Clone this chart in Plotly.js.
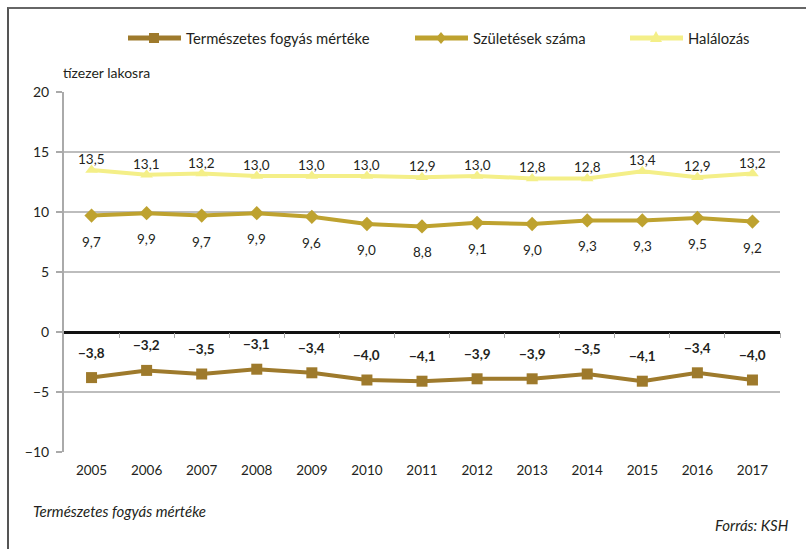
<!DOCTYPE html>
<html><head><meta charset="utf-8">
<script src="https://cdn.plot.ly/plotly-3.0.1.min.js"></script>
<style>
html,body{margin:0;padding:0;background:#fff;}
#wrap{position:relative;width:806px;height:549px;}
#chart{position:absolute;left:0;top:0;width:806px;height:549px;}
#frame{position:absolute;left:7px;top:7px;right:-5px;bottom:-5px;border-left:2px solid #555;border-top:2px solid #666;pointer-events:none;}
</style></head>
<body><div id="wrap"><div id="chart"></div><div id="frame"></div></div>
<script>
const years = [2005,2006,2007,2008,2009,2010,2011,2012,2013,2014,2015,2016,2017];
const termeszetes = [-3.8,-3.2,-3.5,-3.1,-3.4,-4.0,-4.1,-3.9,-3.9,-3.5,-4.1,-3.4,-4.0];
const szuletesek = [9.7,9.9,9.7,9.9,9.6,9.0,8.8,9.1,9.0,9.3,9.3,9.5,9.2];
const halalozas = [13.5,13.1,13.2,13.0,13.0,13.0,12.9,13.0,12.8,12.8,13.4,12.9,13.2];
const names = ['Természetes fogyás mértéke','Születések száma','Halálozás'];
const yTicks = [-10,-5,0,5,10,15,20];

const FONT = 'Lato, "Open Sans", sans-serif';
const TXT = '#231f20';
const colors = ['#9e7a2c', '#bea22f', '#f4ef88'];
const symbols = ['square', 'diamond', 'triangle-up'];
const fmt = v => (v < 0 ? '\u2212' : '') + Math.abs(v).toFixed(1).replace('.', ',');

const series = [termeszetes, szuletesek, halalozas];
const traces = series.map((s, k) => ({
  x: years, y: s, name: names[k], mode: 'lines+markers', showlegend: false,
  line: {color: colors[k], width: 4}, marker: {symbol: symbols[k], size: 11, color: colors[k]}
}));

// plot-area geometry (pixels) used for placing legend / notes in paper coords
const L = 64, T = 92, W = 716, H = 360;
const px = x => (x - L) / W;
const py = y => (T + H - y) / H;

const ann = [];
years.forEach((yr, i) => {
  ann.push({x: yr, y: halalozas[i], text: fmt(halalozas[i]), showarrow: false, yshift: 11,
    font: {family: FONT, size: 13.5, color: TXT}});
  ann.push({x: yr, y: szuletesek[i], text: fmt(szuletesek[i]), showarrow: false, yshift: -26,
    font: {family: FONT, size: 13.5, color: TXT}});
  ann.push({x: yr, y: termeszetes[i], text: '<b>' + fmt(termeszetes[i]) + '</b>', showarrow: false, yshift: 25,
    font: {family: FONT, size: 13.5, color: TXT}});
});
ann.push({xref: 'paper', yref: 'paper', x: px(61), y: py(72), xanchor: 'left', yanchor: 'middle',
  text: 'tízezer lakosra', showarrow: false, font: {family: FONT, size: 14, color: TXT}});
ann.push({xref: 'paper', yref: 'paper', x: px(31), y: py(511), xanchor: 'left', yanchor: 'middle',
  text: '<i>Természetes fogyás mértéke</i>', showarrow: false, font: {family: FONT, size: 15, color: TXT}});
ann.push({xref: 'paper', yref: 'paper', x: px(791), y: py(525), xanchor: 'right', yanchor: 'middle',
  text: '<i>Forrás: KSH</i>', showarrow: false, font: {family: FONT, size: 15, color: TXT}});

// manual legend
const legX = [128, 415, 630];
const legY = 38;
const shapes = [];
legX.forEach((x0, k) => {
  const x1 = x0 + 53, cx = x0 + 26;
  shapes.push({type: 'line', xref: 'paper', yref: 'paper', x0: px(x0), x1: px(x1), y0: py(legY), y1: py(legY),
    line: {color: colors[k], width: 5}});
  let path;
  if (symbols[k] === 'square') {
    path = `M${px(cx-5)},${py(legY-5)} L${px(cx+5)},${py(legY-5)} L${px(cx+5)},${py(legY+5)} L${px(cx-5)},${py(legY+5)} Z`;
  } else if (symbols[k] === 'diamond') {
    path = `M${px(cx)},${py(legY-6)} L${px(cx+5)},${py(legY)} L${px(cx)},${py(legY+6)} L${px(cx-5)},${py(legY)} Z`;
  } else {
    path = `M${px(cx)},${py(legY-7)} L${px(cx+6)},${py(legY+4)} L${px(cx-6)},${py(legY+4)} Z`;
  }
  shapes.push({type: 'path', xref: 'paper', yref: 'paper', path: path, fillcolor: colors[k], line: {width: 0}});
  ann.push({xref: 'paper', yref: 'paper', x: px(x1 + 3), y: py(legY), xanchor: 'left', yanchor: 'middle',
    text: names[k], showarrow: false, font: {family: FONT, size: 14.8, color: TXT}});
});

const layout = {
  width: 806, height: 549,
  margin: {l: L, r: 806 - L - W, t: T, b: 549 - T - H},
  paper_bgcolor: '#fff', plot_bgcolor: '#fff',
  font: {family: FONT, size: 13, color: TXT},
  showlegend: false,
  xaxis: {range: [2004.5, 2017.5], tickmode: 'array', tickvals: years, ticktext: years.map(String),
    showgrid: false, zeroline: false, showline: false, ticks: '',
    tickfont: {family: FONT, size: 13.5, color: TXT}, ticklabelstandoff: 8, fixedrange: true},
  xaxis2: {overlaying: 'x', anchor: 'free', position: 1/3, range: [2004.5, 2017.5],
    tickmode: 'array', tickvals: years.map(y => y + 0.5), ticks: 'outside', ticklen: 5, tickwidth: 1,
    tickcolor: '#aaa', showticklabels: false, showgrid: false, zeroline: false, showline: false},
  yaxis: {range: [-10, 20], tickmode: 'array', tickvals: yTicks, ticktext: yTicks.map(v => v < 0 ? '\u2212' + Math.abs(v) : String(v)),
    showgrid: true, gridcolor: '#bdbdbd', gridwidth: 1.5,
    zeroline: true, zerolinecolor: '#111', zerolinewidth: 3,
    showline: true, linecolor: '#aaa', linewidth: 2,
    ticks: 'outside', ticklen: 6, tickcolor: '#aaa', tickwidth: 1.5,
    tickfont: {family: FONT, size: 14, color: TXT}, ticklabelstandoff: 4},
  annotations: ann,
  shapes: shapes
};

// helper trace (invisible) so that the tick axis on the zero line is drawn
traces.push({x: [2004.5], y: [0], xaxis: 'x2', mode: 'markers', marker: {opacity: 0}, showlegend: false, hoverinfo: 'skip'});

Plotly.newPlot('chart', traces, layout, {displayModeBar: false, staticPlot: true});
</script></body></html>
